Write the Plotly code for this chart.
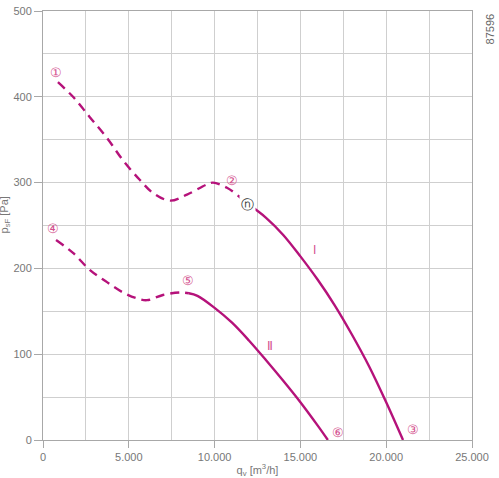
import plotly.graph_objects as go

# curve I (upper), dashed part then solid part
q1_dash = [870, 1750, 2740, 3730, 4660, 5650, 6410, 7400, 8390, 9560, 9910, 10720, 11480, 11950]
p1_dash = [417, 400, 376, 352, 326, 303, 288, 279, 286, 298, 300, 294, 283, 275]
q1_solid = [11950, 13000, 14000, 15000, 16000, 17000, 18000, 19000, 20000, 20980]
p1_solid = [275, 259, 239, 214, 187, 157, 123, 86, 44, 0]

# curve II (lower)
q2_dash = [760, 1750, 2740, 3730, 4660, 5480, 6060, 6990, 7980, 8500]
p2_dash = [233, 218, 198, 184, 172, 165, 163, 169, 172, 171]
q2_solid = [8500, 9000, 10000, 11000, 12000, 13000, 14000, 15000, 16000, 16600]
p2_solid = [171, 168, 154, 137, 116, 93, 69, 44, 17, 0]

# operating point markers
pt_labels = ["①", "②", "③", "④", "⑤", "⑥"]
pt_x = [760, 11000, 21560, 600, 8450, 17190]
pt_y = [428, 302, 12, 246, 186, 9]

line_col = "#b5127a"
label_col = "#d4508e"

fig = go.Figure()
for qx, py, dash in [(q1_dash, p1_dash, "9px,6px"), (q1_solid, p1_solid, "solid"),
                     (q2_dash, p2_dash, "9px,6px"), (q2_solid, p2_solid, "solid")]:
    fig.add_trace(go.Scatter(x=qx, y=py, mode="lines",
                             line=dict(color=line_col, width=2.4, dash=dash, shape="spline", smoothing=1),
                             showlegend=False, hoverinfo="skip"))

for t, x, y in zip(pt_labels, pt_x, pt_y):
    fig.add_annotation(x=x, y=y, text=t, showarrow=False, font=dict(size=13, color=label_col))
fig.add_annotation(x=11890, y=275, text="ⓝ", showarrow=False, font=dict(size=13, color="#333333"), bgcolor="white")
fig.add_annotation(x=15850, y=221, text="I", showarrow=False, font=dict(size=12, color=label_col))
fig.add_annotation(x=13230, y=110, text="Ⅱ", showarrow=False, font=dict(size=12, color=label_col))
fig.add_annotation(x=1.042, y=0.998, xref="paper", yref="paper", text="87596", textangle=-90, showarrow=False,
                   xanchor="center", yanchor="top", font=dict(size=11, color="#666666"))
fig.add_annotation(x=-0.088, y=0.524, xref="paper", yref="paper", text="p<sub>sF</sub> [Pa]", textangle=-90,
                   showarrow=False, xanchor="center", font=dict(size=11, color="#777777"))

fig.update_layout(width=499, height=478, margin=dict(l=43, r=27, t=11, b=38),
                  plot_bgcolor="white", paper_bgcolor="white", separators=",.",
                  font=dict(family="Liberation Sans, Arial", size=11, color="#777777"))
fig.update_xaxes(range=[0, 25000], tickvals=[0, 5000, 10000, 15000, 20000, 25000], tickformat=",d",
                 automargin=False,
                 showgrid=True, gridcolor="#cfcfcf", gridwidth=1.2,
                 minor=dict(dtick=2500, showgrid=True, gridcolor="#cfcfcf", ticks=""),
                 showline=True, linecolor="#a8a8a8", mirror=True, ticks="outside", ticklen=7, tickcolor="#a8a8a8",
                 zeroline=False, title=dict(text="q<sub>v</sub> [m<sup>3</sup>/h]", standoff=4,
                                            font=dict(size=11, color="#777777")))
fig.update_yaxes(range=[0, 500], tickvals=[0, 100, 200, 300, 400, 500], automargin=False,
                 showgrid=True, gridcolor="#cfcfcf", gridwidth=1.2,
                 minor=dict(dtick=50, showgrid=True, gridcolor="#cfcfcf", ticks=""),
                 showline=True, linecolor="#a8a8a8", mirror=True, ticks="outside", ticklen=8, tickcolor="#a8a8a8",
                 zeroline=False)

# drop the default page margin so the figure starts at the window corner
fig.write_html("out.html", config={"displayModeBar": False},
               post_script="document.body.style.margin = '0px';")
